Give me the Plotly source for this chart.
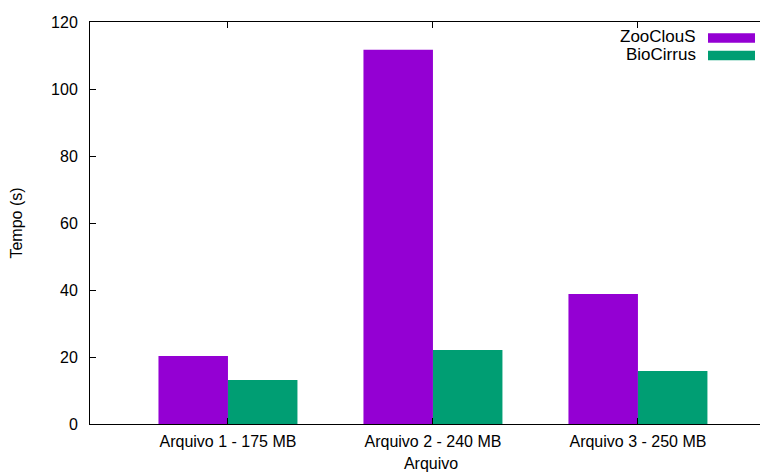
import plotly.graph_objects as go

categories = ["Arquivo 1 - 175 MB", "Arquivo 2 - 240 MB", "Arquivo 3 - 250 MB"]
zooclous = [20.3, 111.7, 38.8]
biocirrus = [13.1, 22.1, 15.8]
series_names = ["ZooClouS", "BioCirrus"]
colors = ["#9400D3", "#009E73"]
yticks = [0, 20, 40, 60, 80, 100, 120]

# page has an 8px body margin: figure coordinates = screen coordinates - 8
OFF = 8
W, H = 768, 473
L, R, T, B = 90 - OFF, 4, 22 - OFF, H - (424 - OFF)
FONT = "Liberation Sans, Arial, Helvetica, sans-serif"

xpos = list(range(len(categories)))

fig = go.Figure()
for name, vals, col in zip(series_names, [zooclous, biocirrus], colors):
    fig.add_trace(go.Bar(x=xpos, y=vals, name=name, marker=dict(color=col, line=dict(width=0)),
                         showlegend=False))

# gnuplot-style legend (text left, colored key right), positions given in screen px
def px2paper_x(sx):
    return (sx - OFF - L) / (W - L - R)

def px2paper_y(sy):
    return (H - B - (sy - OFF)) / (H - B - T)

for i, (name, col) in enumerate(zip(series_names, colors)):
    cy = 38 + i * 17.5
    fig.add_annotation(x=px2paper_x(698), y=px2paper_y(cy - 1.5), xref="paper", yref="paper",
                       text=name, showarrow=False, xanchor="right", yanchor="middle",
                       height=16, valign="middle",
                       font=dict(family=FONT, size=17, color="#000000"))
    fig.add_shape(type="rect", xref="paper", yref="paper",
                  x0=px2paper_x(708), x1=px2paper_x(755),
                  y0=px2paper_y(cy - 4.7), y1=px2paper_y(cy + 4.7),
                  fillcolor=col, line=dict(width=0))

fig.update_layout(
    width=W, height=H,
    margin=dict(l=L, r=R, t=T, b=B, pad=0),
    paper_bgcolor="white", plot_bgcolor="white",
    barmode="group", bargap=0.322, bargroupgap=0,
    font=dict(family=FONT, size=16, color="#000000"),
)
fig.update_xaxes(
    range=[-0.673, 2.654], tickvals=xpos, ticktext=categories,
    showline=True, linecolor="black", linewidth=1, mirror="allticks",
    ticks="inside", ticklen=6, tickcolor="black", showgrid=False, zeroline=False,
    title=dict(text="Arquivo", standoff=8, font=dict(size=16)),
    tickfont=dict(size=16), ticklabelstandoff=3,
)
fig.update_yaxes(
    range=[0, 120], tickvals=yticks,
    showline=True, linecolor="black", linewidth=1, mirror="allticks",
    ticks="inside", ticklen=6, tickcolor="black", showgrid=False, zeroline=False,
    title=dict(text="Tempo (s)", standoff=24, font=dict(size=16)),
    tickfont=dict(size=16), ticklabelstandoff=8,
)

fig.write_html("out.html")
